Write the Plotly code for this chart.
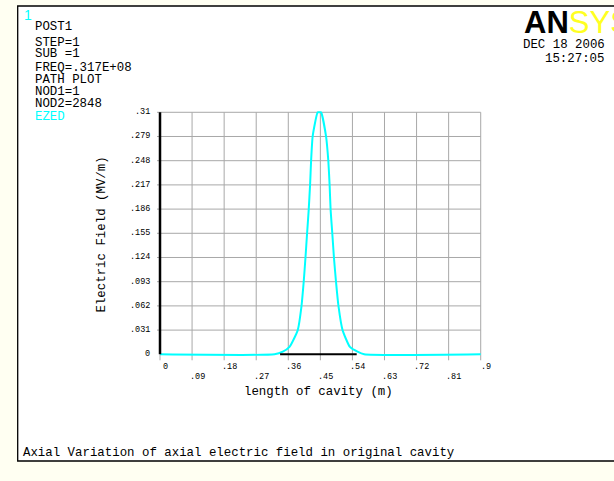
import plotly.graph_objects as go

W, H = 614, 481

# ---- data ----
curve_x = [0.0, 0.3214, 0.3446, 0.3634, 0.3866, 0.3969, 0.4033, 0.4081, 0.4128, 0.4173,
           0.4212, 0.4240, 0.4285, 0.4425, 0.4472, 0.4519, 0.4659, 0.4724, 0.4760, 0.4788,
           0.4835, 0.4883, 0.4939, 0.5011, 0.5123, 0.5330, 0.5543, 0.5730, 0.9]
curve_y = [0.0, 0.0, 0.0033, 0.0094, 0.031, 0.061, 0.093, 0.123, 0.155, 0.185,
           0.217, 0.2474, 0.2795, 0.31, 0.31, 0.31, 0.2795, 0.2474, 0.217, 0.185,
           0.155, 0.123, 0.093, 0.061, 0.031, 0.0094, 0.0033, 0.0, 0.0]
path_x = [0.337, 0.552]
path_y = [0.0, 0.0]

x_ticks = [0, 0.09, 0.18, 0.27, 0.36, 0.45, 0.54, 0.63, 0.72, 0.81, 0.9]
x_labels = ["0", ".09", ".18", ".27", ".36", ".45", ".54", ".63", ".72", ".81", ".9"]
y_ticks = [0, 0.031, 0.062, 0.093, 0.124, 0.155, 0.186, 0.217, 0.248, 0.279, 0.31]
y_labels = ["0", ".031", ".062", ".093", ".124", ".155", ".186", ".217", ".248", ".279", ".31"]

header_lines = ["POST1", "STEP=1", "SUB =1", "FREQ=.317E+08", "PATH PLOT", "NOD1=1", "NOD2=2848"]
header_y = [26.7, 43.3, 54.5, 67.5, 79.5, 91.5, 103.5]
legend_label = "EZED"
date_text = "DEC 18 2006"
time_text = "15:27:05"
x_title = "length of cavity (m)"
y_title = "Electric Field (MV/m)"
caption = "Axial Variation of axial electric field in original cavity"

# ---- layout geometry ----
X0_PX, X1_PX = 160.0, 480.7      # x = 0 and x = 0.9
Y0_PX, Y1_PX = 354.3, 112.3      # y = 0 and y = 0.31
XR = [-0.012, 0.912]
YR = [-0.012, 0.315]
kx = (X1_PX - X0_PX) / 0.9
ky = (Y0_PX - Y1_PX) / 0.31
xdom = [(X0_PX + XR[0] * kx) / W, (X0_PX + XR[1] * kx) / W]
ydom = [1 - (Y0_PX - YR[0] * ky) / H, 1 - (Y0_PX - YR[1] * ky) / H]

def px(x):
    return x / W

def py(y):
    return 1 - y / H

MONO = "Liberation Mono, Courier New, monospace"
CYAN = "#00ffff"
GRID = "#a8a8a8"

fig = go.Figure()
fig.add_trace(go.Scatter(x=curve_x, y=curve_y, mode="lines",
                         line=dict(color=CYAN, width=2, shape="spline", smoothing=0.5),
                         hoverinfo="skip", showlegend=False))
fig.add_trace(go.Scatter(x=path_x, y=path_y, mode="lines",
                         line=dict(color="black", width=2), hoverinfo="skip",
                         showlegend=False))

shapes = []
# white frame
shapes.append(dict(type="rect", xref="paper", yref="paper",
                   x0=px(17.7), x1=1.05, y0=py(461), y1=py(6),
                   fillcolor="white", line=dict(color="black", width=1.3),
                   layer="below"))
# grid lines
tick_len_y = 6 / ky
tick_len_x = 3 / kx
for xv in x_ticks[1:]:
    shapes.append(dict(type="line", xref="x", yref="y", x0=xv, x1=xv,
                       y0=-tick_len_y, y1=0.31,
                       line=dict(color=GRID, width=1), layer="below"))
shapes.append(dict(type="line", xref="x", yref="y", x0=0, x1=0,
                   y0=-tick_len_y, y1=0, line=dict(color=GRID, width=1), layer="below"))
for yv in y_ticks[1:]:
    shapes.append(dict(type="line", xref="x", yref="y", x0=-tick_len_x, x1=0.9,
                       y0=yv, y1=yv, line=dict(color=GRID, width=1), layer="below"))
# y axis line
shapes.append(dict(type="line", xref="x", yref="y", x0=0, x1=0, y0=0, y1=0.31,
                   line=dict(color="black", width=2.5), layer="above"))

ann = []
for yv, lab in zip(y_ticks, y_labels):
    ann.append(dict(x=px(152), xref="paper", y=yv, yref="y", text=lab,
                    xanchor="right", yanchor="middle", showarrow=False,
                    font=dict(family=MONO, size=8.5, color="black")))
for i, (xv, lab) in enumerate(zip(x_ticks, x_labels)):
    rowy = 366.5 if i % 2 == 0 else 376.5
    ann.append(dict(x=xv, xref="x", y=py(rowy), yref="paper", text=lab,
                    xanchor="center", yanchor="middle", xshift=5, showarrow=False,
                    font=dict(family=MONO, size=8.5, color="black")))
ann.append(dict(x=px(318.8), xref="paper", y=py(391.5), yref="paper", text=x_title,
                xanchor="center", yanchor="middle", showarrow=False,
                font=dict(family=MONO, size=12.4, color="black")))
ann.append(dict(x=px(101.7), xref="paper", y=py(234.8), yref="paper", text=y_title,
                textangle=-90, xanchor="center", yanchor="middle", showarrow=False,
                font=dict(family=MONO, size=12.4, color="black")))
# header
ann.append(dict(x=px(21.5), xref="paper", y=py(15), yref="paper", text="1",
                xanchor="left", yanchor="middle", showarrow=False,
                font=dict(family="Liberation Sans, Arial", size=14, color=CYAN)))
for t, yy in zip(header_lines, header_y):
    ann.append(dict(x=px(32.5), xref="paper", y=py(yy), yref="paper", text=t,
                    xanchor="left", yanchor="middle", showarrow=False,
                    font=dict(family=MONO, size=12.4, color="black")))
ann.append(dict(x=px(32.5), xref="paper", y=py(116.5), yref="paper", text=legend_label,
                xanchor="left", yanchor="middle", showarrow=False,
                font=dict(family=MONO, size=12.4, color=CYAN)))
# logo and date
ann.append(dict(x=px(522), xref="paper", y=py(22), yref="paper",
                text="<b>AN</b><span style='color:#ffff22'>SYS</span>",
                xanchor="left", yanchor="middle", showarrow=False,
                font=dict(family="Liberation Sans, Arial", size=31, color="black")))
ann.append(dict(x=px(607), xref="paper", y=py(45), yref="paper", text=date_text,
                xanchor="right", yanchor="middle", showarrow=False,
                font=dict(family=MONO, size=12.4, color="black")))
ann.append(dict(x=px(607), xref="paper", y=py(59.3), yref="paper", text=time_text,
                xanchor="right", yanchor="middle", showarrow=False,
                font=dict(family=MONO, size=12.4, color="black")))
# caption
ann.append(dict(x=px(21), xref="paper", y=py(452.7), yref="paper", text=caption,
                xanchor="left", yanchor="middle", showarrow=False,
                font=dict(family=MONO, size=12.4, color="black")))

fig.update_layout(
    width=W, height=H,
    margin=dict(l=0, r=0, t=0, b=0, pad=0),
    paper_bgcolor="#fffff2",
    plot_bgcolor="white",
    xaxis=dict(domain=xdom, range=XR, showgrid=False, zeroline=False,
               showticklabels=False, showline=False, ticks=""),
    yaxis=dict(domain=ydom, range=YR, showgrid=False, zeroline=False,
               showticklabels=False, showline=False, ticks=""),
    shapes=shapes,
    annotations=ann,
    showlegend=False,
)

fig.write_html("out.html")
